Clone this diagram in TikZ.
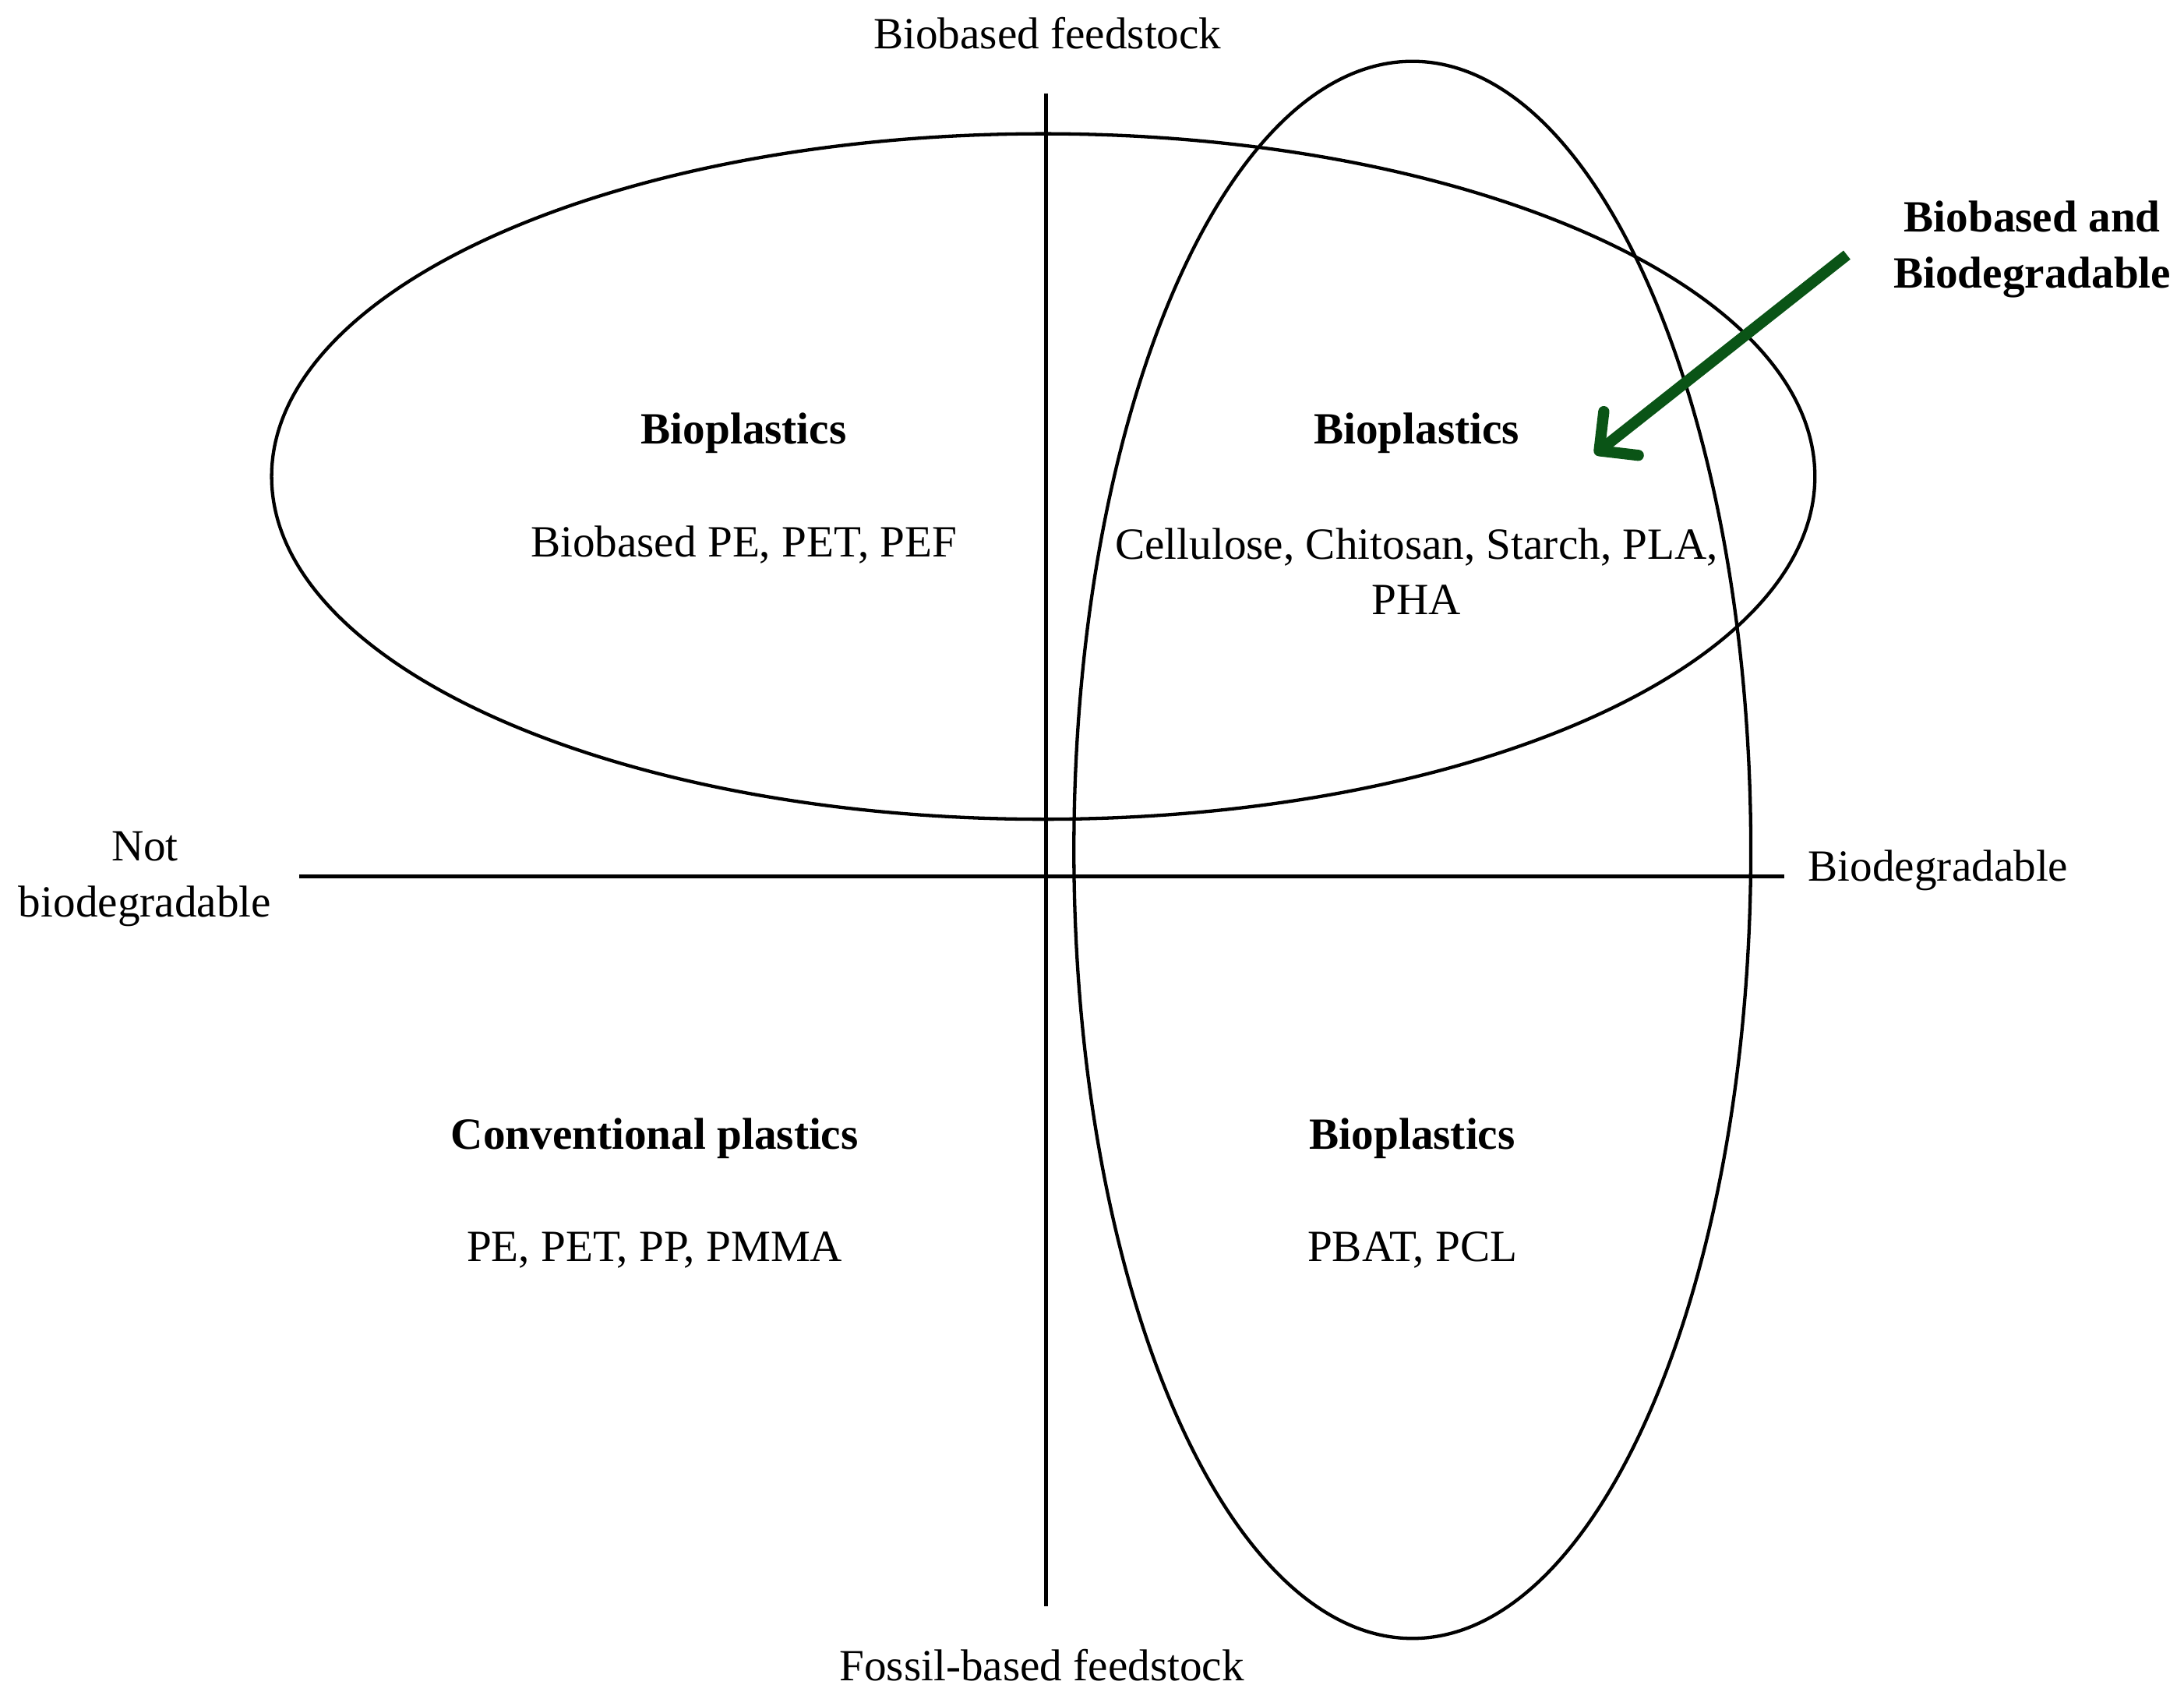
\documentclass[tikz,border=0pt]{standalone}
\usepackage{fontspec}
\setmainfont{Liberation Serif}
\usetikzlibrary{arrows.meta}
\definecolor{arrowgreen}{RGB}{10,84,22}
\begin{document}
\begin{tikzpicture}[x=1pt,y=-1pt,
  lbl/.style={inner sep=0pt,font=\fontsize{32}{40}\selectfont,align=center},
  head/.style={lbl,font=\fontsize{32}{40}\selectfont\bfseries},
  axis/.style={line width=2.8pt},
  ring/.style={line width=2.4pt}]
\useasboundingbox (0,0) rectangle (1568,1219);
% axes
\coordinate (vt) at (751,67);
\coordinate (vb) at (751,1153);
\coordinate (hl) at (215,629);
\coordinate (hr) at (1281,629);
\draw[axis] (vt) -- (vb);
\draw[axis] (hl) -- (hr);
% ellipses
\draw[ring] (749,342) ellipse [x radius=554, y radius=246];
\draw[ring] (1014,610) ellipse [x radius=243, y radius=566];
% axis labels
\node[lbl] (top) at (752,24) {Biobased feedstock};
\node[lbl] (bot) at (748,1195) {Fossil-based feedstock};
\node[lbl] (left) at (104,631) {Not\\biodegradable};
\node[lbl,anchor=west] (right) at (1298,625) {Biodegradable};
% quadrant texts
\node[head] (q1h) at (534,311) {Bioplastics};
\node[lbl] (q1t) at (534,391) {Biobased PE, PET, PEF};
\node[head] (q2h) at (1017,311) {Bioplastics};
\node[lbl] (q2t) at (1017,410) {Cellulose, Chitosan, Starch, PLA,\\PHA};
\node[head] (q3h) at (470,817) {Conventional plastics};
\node[lbl] (q3t) at (470,897) {PE, PET, PP, PMMA};
\node[head] (q4h) at (1014,817) {Bioplastics};
\node[lbl] (q4t) at (1014,897) {PBAT, PCL};
% arrow label
\node[head] (bb) at (1459,179) {Biobased and\\Biodegradable};
\coordinate (as) at (1326,183);
\coordinate (ae) at (1145,326);
\draw[arrowgreen,line width=8pt,-{Straight Barb[length=20pt,width=40pt,line width=8pt,round]}] (as) -- (ae);
\end{tikzpicture}
\end{document}
